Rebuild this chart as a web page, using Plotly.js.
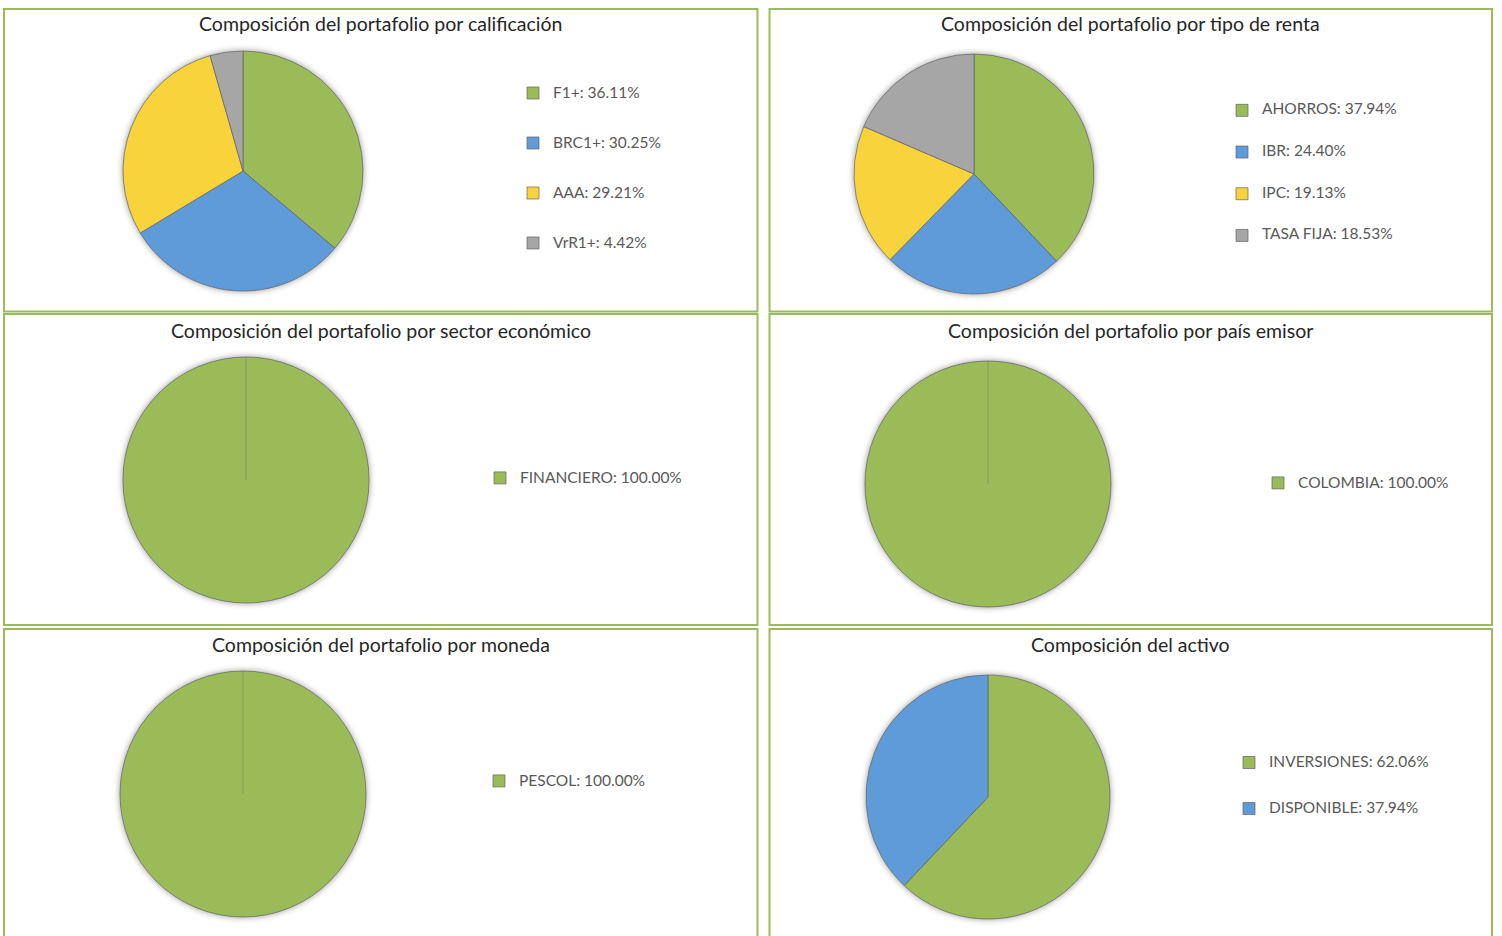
<!DOCTYPE html>
<html>
<head>
<meta charset="utf-8">
<script src="https://cdn.plot.ly/plotly-3.0.1.min.js"></script>
<style>
html,body{margin:0;padding:0;background:#ffffff;}
#chart{width:1502px;height:936px;}
.pielayer .trace{filter:drop-shadow(0px 0px 3px rgba(0,0,0,0.4));}
</style>
</head>
<body>
<div id="chart"></div>
<script>
// ---------------- DATA ----------------
const calificacionLabels = ['F1+', 'BRC1+', 'AAA', 'VrR1+'];
const calificacionValues = [36.11, 30.25, 29.21, 4.42];

const rentaLabels = ['AHORROS', 'IBR', 'IPC', 'TASA FIJA'];
const rentaValues = [37.94, 24.40, 19.13, 18.53];

const sectorLabels = ['FINANCIERO'];
const sectorValues = [100.00];

const paisLabels = ['COLOMBIA'];
const paisValues = [100.00];

const monedaLabels = ['PESCOL'];
const monedaValues = [100.00];

const activoLabels = ['INVERSIONES', 'DISPONIBLE'];
const activoValues = [62.06, 37.94];

const chartTitles = [
  'Composición del portafolio por calificación',
  'Composición del portafolio por tipo de renta',
  'Composición del portafolio por sector económico',
  'Composición del portafolio por país emisor',
  'Composición del portafolio por moneda',
  'Composición del activo'
];

// ---------------- STYLE / LAYOUT ----------------
const W = 1502, H = 936;
const GREEN = '#9BBB59', BLUE = '#5E9BD8', YELLOW = '#F8D33C', GRAY = '#A6A6A6';
const BORDER = '#9BBB59';

const panels = [
  {labels: calificacionLabels, values: calificacionValues, colors: [GREEN, BLUE, YELLOW, GRAY],
   box: [4, 9, 757.5, 311.5], titleY: 23, pie: [243, 171, 120], leg: [513, 168, 12.05]},
  {labels: rentaLabels, values: rentaValues, colors: [GREEN, BLUE, YELLOW, GRAY],
   box: [769.5, 9, 1492, 311.5], titleY: 23, pie: [974, 174, 120], leg: [1222, 173, 9.92]},
  {labels: sectorLabels, values: sectorValues, colors: [GREEN],
   box: [4, 314, 757.5, 625], titleY: 330, pie: [246, 480, 123], leg: [480, 478, 12]},
  {labels: paisLabels, values: paisValues, colors: [GREEN],
   box: [769.5, 314, 1492, 625], titleY: 330, pie: [988, 484, 123], leg: [1258, 483, 12]},
  {labels: monedaLabels, values: monedaValues, colors: [GREEN],
   box: [4, 629, 757.5, 945], titleY: 644, pie: [243, 794, 123], leg: [479, 781, 12]},
  {labels: activoLabels, values: activoValues, colors: [GREEN, BLUE],
   box: [769.5, 629, 1492, 945], titleY: 644, pie: [988, 797, 122], leg: [1229, 786, 11.03]}
];

const px = v => v / W;
const py = v => 1 - v / H;

const data = [];
const shapes = [];
const annotations = [];
const layout = {
  width: W, height: H,
  margin: {l: 0, r: 0, t: 0, b: 0},
  paper_bgcolor: '#ffffff',
  showlegend: true,
  shapes: shapes,
  annotations: annotations
};

panels.forEach((p, i) => {
  const legendName = i === 0 ? 'legend' : 'legend' + (i + 1);
  const [cx, cy, r] = p.pie;
  const legendText = p.labels.map((lab, k) =>
    ' <br><span style="font-size:15.5px">' + lab + ': ' + p.values[k].toFixed(2) + '%</span><br> ');
  data.push({
    type: 'pie',
    labels: legendText,
    values: p.values,
    sort: false,
    direction: 'clockwise',
    rotation: 0,
    textinfo: 'none',
    hoverinfo: 'label+percent',
    marker: {colors: p.colors, line: {color: 'rgba(100,100,100,0.7)', width: 1}},
    domain: {x: [px(cx - r), px(cx + r)], y: [py(cy + r), py(cy - r)]},
    legend: legendName,
    showlegend: true
  });
  layout[legendName] = {
    x: px(p.leg[0]), y: py(p.leg[1]),
    xanchor: 'left', yanchor: 'middle',
    orientation: 'v',
    bgcolor: 'rgba(0,0,0,0)',
    borderwidth: 0,
    valign: 'middle',
    font: {family: 'Lato, "Liberation Sans", sans-serif', size: p.leg[2], color: '#595959'}
  };
  shapes.push({
    type: 'rect', xref: 'paper', yref: 'paper',
    x0: px(p.box[0]), x1: px(p.box[2]), y0: py(p.box[3]), y1: py(p.box[1]),
    line: {color: BORDER, width: 2}, fillcolor: 'rgba(0,0,0,0)', layer: 'below'
  });
  if (p.values.length === 1) {
    shapes.push({
      type: 'line', xref: 'paper', yref: 'paper',
      x0: px(cx), x1: px(cx), y0: py(cy), y1: py(cy - r),
      line: {color: 'rgba(110,110,110,0.45)', width: 1}, layer: 'above'
    });
  }
  annotations.push({
    xref: 'paper', yref: 'paper',
    x: px((p.box[0] + p.box[2]) / 2), y: py(p.titleY),
    xanchor: 'center', yanchor: 'middle',
    text: chartTitles[i], showarrow: false,
    font: {family: 'Lato, "Noto Sans", sans-serif', size: 19.5, color: '#262626'}
  });
});

Plotly.newPlot('chart', data, layout, {displayModeBar: false, staticPlot: true});
</script>
</body>
</html>
